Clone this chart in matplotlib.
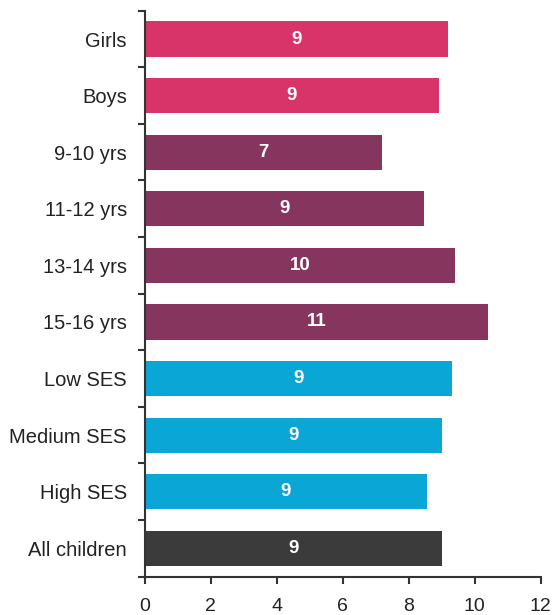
import matplotlib.pyplot as plt
import numpy as np

# data
categories = ['Girls', 'Boys', '9-10 yrs', '11-12 yrs', '13-14 yrs', '15-16 yrs',
              'Low SES', 'Medium SES', 'High SES', 'All children']
values = [9.2, 8.9, 7.2, 8.45, 9.4, 10.4, 9.3, 9.0, 8.55, 9.0]
bar_labels = ['9', '9', '7', '9', '10', '11', '9', '9', '9', '9']
groups = ['gender', 'gender', 'age', 'age', 'age', 'age', 'ses', 'ses', 'ses', 'all']

group_colors = {'gender': '#d9346a', 'age': '#86355f', 'ses': '#0aa6d6', 'all': '#3b3b3b'}
colors = [group_colors[g] for g in groups]

plt.rcParams['font.family'] = ['Liberation Sans', 'DejaVu Sans']

fig = plt.figure(figsize=(5.55, 6.15), dpi=100)
ax = fig.add_axes([0.261, 0.0623, 0.7135, 0.9203])

y = np.arange(len(categories))
ax.barh(y, values, height=0.62, color=colors)

# value labels inside the bars
for yi, v, lab in zip(y, values, bar_labels):
    ax.text(v / 2, yi, lab, ha='center', va='center', color='white',
            fontsize=13.5, fontweight='bold')

ax.set_xlim(0, 12)
ax.set_ylim(len(categories) - 0.5, -0.5)
ax.set_xticks(np.arange(0, 13, 2))
ax.set_yticks(y)
ax.set_yticklabels(categories)
ax.tick_params(axis='y', length=0, pad=13, labelsize=14.5, labelcolor='#222222')
ax.set_yticks(np.arange(-0.5, len(categories), 1), minor=True)
ax.tick_params(axis='y', which='minor', length=5, width=1.5, color='#333333')
ax.tick_params(axis='x', length=5, width=1.5, color='#333333', labelsize=14,
               pad=10.5, labelcolor='#222222')

for s in ['top', 'right']:
    ax.spines[s].set_visible(False)
for s in ['left', 'bottom']:
    ax.spines[s].set_linewidth(1.5)
    ax.spines[s].set_color('#333333')

fig.savefig('out.png', dpi=100)
